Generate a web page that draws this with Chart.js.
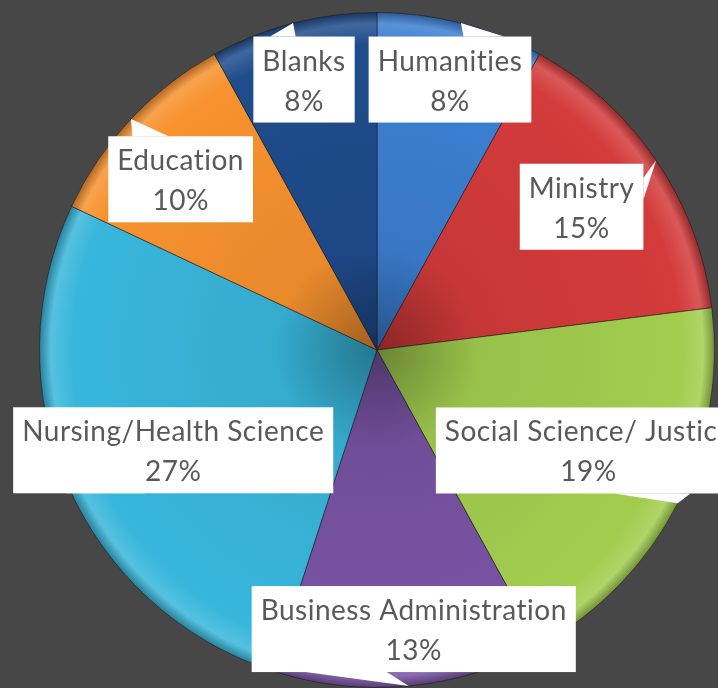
<!DOCTYPE html>
<html><head><meta charset="utf-8">
<script src="https://cdn.jsdelivr.net/npm/chart.js@4/dist/chart.umd.min.js"></script>
<style>html,body{margin:0;padding:0;background:#474747;overflow:hidden}#wrap{width:718px;height:688px;position:relative}</style>
</head><body><div id="wrap"><canvas id="c"></canvas></div>
<script>
const categories = ["Humanities","Ministry","Social Science/ Justice","Business Administration","Nursing/Health Science","Education","Blanks"];
const shares = [8,15,19,13,27,10,8];
const sliceColors = ["#3c7fd2","#d43b3b","#a2cd4f","#7853a3","#38b6db","#f7922f","#1f4c8c"];
const labelRadius = [0.83,0.74,0.694,0.834,0.673,0.771,0.83];
const labelAngleShift = [0.7,-0.8,-1.6,-2.1,-2.8,-2.2,-0.7];

function shade(hex, p){
  const n = parseInt(hex.slice(1),16);
  let r=(n>>16)&255, g=(n>>8)&255, b=n&255;
  const f = c => p<0 ? Math.round(c*(1+p)) : Math.round(c+(255-c)*p);
  return `rgb(${f(r)},${f(g)},${f(b)})`;
}
function sliceFill(c){
  const chart=c.chart, area=chart.chartArea, base=sliceColors[c.dataIndex];
  if(!area) return base;
  const cx=(area.left+area.right)/2, cy=(area.top+area.bottom)/2, r=Math.min(area.width,area.height)/2;
  const g=chart.ctx.createRadialGradient(cx,cy,0,cx,cy,r);
  g.addColorStop(0,shade(base,-0.35));
  g.addColorStop(0.3,shade(base,-0.06));
  g.addColorStop(0.9,base);
  g.addColorStop(0.965,shade(base,0.15));
  g.addColorStop(1,shade(base,-0.3));
  return g;
}

const calloutPlugin = {
  id:'callouts',
  afterDatasetsDraw(chart, args, opts){
    const ctx=chart.ctx, meta=chart.getDatasetMeta(0);
    const total=shares.reduce((a,b)=>a+b,0);
    ctx.save();
    ctx.font=opts.font;
    if('letterSpacing' in ctx) ctx.letterSpacing=opts.letterSpacing;
    meta.data.forEach((arc,i)=>{
      const {x,y,startAngle,endAngle,outerRadius}=arc.getProps(['x','y','startAngle','endAngle','outerRadius'],true);
      const mid=(startAngle+endAngle)/2;
      const tipX=x+Math.cos(mid)*outerRadius, tipY=y+Math.sin(mid)*outerRadius;
      const a=mid+opts.angleShift[i]*Math.PI/180;
      const cx=x+Math.cos(a)*outerRadius*opts.radius[i];
      const cy=y+Math.sin(a)*outerRadius*opts.radius[i];
      const line1=categories[i];
      const line2=Math.round(shares[i]/total*100)+'%';
      const w=Math.max(ctx.measureText(line1).width,ctx.measureText(line2).width)+2*opts.padX;
      const h=opts.boxH;
      const l=cx-w/2, t=cy-h/2;
      const dx=tipX-cx, dy=tipY-cy;
      ctx.fillStyle='#ffffff';
      ctx.fillRect(l,t,w,h);
      ctx.beginPath();
      if(Math.abs(dy)>Math.abs(dx*h/w)){
        const ey = dy<0 ? t : t+h;
        const x1=l+w*(dx<0?2:7)/12, x2=l+w*(dx<0?5:10)/12;
        ctx.moveTo(x1,ey); ctx.lineTo(tipX,tipY); ctx.lineTo(x2,ey);
      } else {
        const ex = dx<0 ? l : l+w;
        const y1=t+h*(dy<0?2:7)/12, y2=t+h*(dy<0?5:10)/12;
        ctx.moveTo(ex,y1); ctx.lineTo(tipX,tipY); ctx.lineTo(ex,y2);
      }
      ctx.closePath(); ctx.fill();
      ctx.fillStyle=opts.color;
      ctx.textAlign='center'; ctx.textBaseline='alphabetic';
      ctx.fillText(line1,cx,cy+opts.line1);
      ctx.fillText(line2,cx,cy+opts.line2);
    });
    ctx.restore();
  }
};

new Chart(document.getElementById('c'),{
  type:'pie',
  data:{labels:categories,datasets:[{data:shares,backgroundColor:sliceFill,borderColor:'rgba(25,25,25,0.55)',borderWidth:1}]},
  options:{
    responsive:true,maintainAspectRatio:false,animation:false,
    layout:{padding:{top:12,bottom:0,left:39,right:3}},
    plugins:{
      legend:{display:false},tooltip:{enabled:false},
      callouts:{font:'28px Lato',letterSpacing:'0.5px',color:'#595959',padX:9,boxH:86,line1:-9,line2:31,radius:labelRadius,angleShift:labelAngleShift}
    }
  },
  plugins:[calloutPlugin]
});
</script></body></html>
